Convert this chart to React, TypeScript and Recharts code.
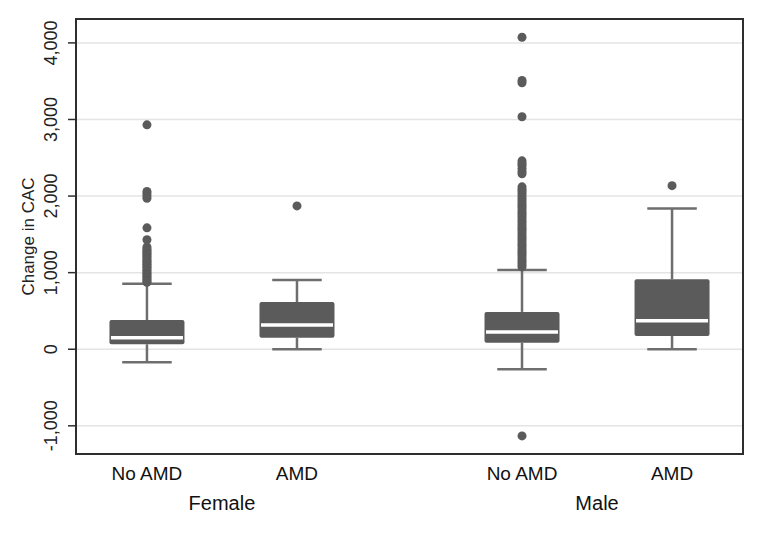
import React from 'react';
import {
  ComposedChart,
  XAxis,
  YAxis,
  CartesianGrid,
  Scatter,
  ReferenceArea,
  ReferenceLine,
} from 'recharts';

// ---- data ----
const categories = ['No AMD', 'AMD', 'No AMD', 'AMD'];
const groups = ['Female', 'Male'];
const categoryPositions = [1, 2, 3.5, 4.5];
const groupPositions = [1.5, 4];

const lowerWhisker = [-170, 0, -261, 0];
const q1 = [65, 151, 86, 174];
const median = [151, 315, 224, 371];
const q3 = [382, 617, 487, 914];
const upperWhisker = [856, 905, 1035, 1836];

const femaleNoAmdOutliers = [
  2930, 2060, 2030, 2000, 1970, 1585, 1430, 1335, 1310, 1290, 1270, 1250, 1230,
  1210, 1190, 1170, 1150, 1130, 1110, 1090, 1070, 1050, 1030, 1010, 990, 970,
  950, 930, 910, 890, 875,
];
const femaleAmdOutliers = [1871];
const maleNoAmdOutliers = [
  4073, 3510, 3480, 3035, 2460, 2430, 2400, 2360, 2320, 2290, 2120, 2090, 2060,
  2030, 2000, 1970, 1940, 1910, 1880, 1850, 1820, 1790, 1760, 1730, 1700, 1670,
  1640, 1610, 1580, 1550, 1520, 1490, 1460, 1430, 1400, 1370, 1340, 1310, 1280,
  1250, 1220, 1190, 1160, 1130, 1100, 1075, -1132,
];
const maleAmdOutliers = [2136];

const yTicks = [-1000, 0, 1000, 2000, 3000, 4000];
const yTitle = 'Change in CAC';

// ---- styles ----
const X_DOMAIN: [number, number] = [0.527, 4.973];
const Y_DOMAIN: [number, number] = [-1368, 4312];
const BOX_HALF = 0.25;
const CAP_HALF = 0.165;
const BOX_FILL = '#5b5b5b';
const WHISKER = '#6e6e6e';
const FRAME = '#2e2e2e';
const FONT = '"Liberation Sans", Arial, sans-serif';

const outlierSets = [femaleNoAmdOutliers, femaleAmdOutliers, maleNoAmdOutliers, maleAmdOutliers];
const outlierPoints = outlierSets.flatMap((set, i) =>
  set.map((v) => ({ x: categoryPositions[i], y: v }))
);
// anchor points so the group axis is attached to a (hidden) series
const groupAnchors = groupPositions.map((g) => ({ x: g, y: 0 }));

const fmt = (v: number) => v.toLocaleString('en-US');

const YTick = (props: any) => {
  const { x, y, payload } = props;
  return (
    <text
      x={x}
      y={y}
      transform={`rotate(-90 ${x} ${y})`}
      textAnchor="middle"
      fontSize={18}
      fontFamily={FONT}
      fill="#222"
    >
      {fmt(payload.value)}
    </text>
  );
};

const CatTick = (props: any) => {
  const { x, y, payload } = props;
  const idx = categoryPositions.indexOf(payload.value);
  return (
    <text x={x} y={y + 26} textAnchor="middle" fontSize={19} fontFamily={FONT} fill="#111">
      {categories[idx]}
    </text>
  );
};

const GroupTick = (props: any) => {
  const { x, y, payload } = props;
  const idx = groupPositions.indexOf(payload.value);
  return (
    <text x={x} y={y + 22} textAnchor="middle" fontSize={20} fontFamily={FONT} fill="#111">
      {groups[idx]}
    </text>
  );
};

const YTitle = (props: any) => {
  const vb = props.viewBox || {};
  const x = (vb.x || 0) + 34;
  const y = (vb.y || 0) + (vb.height || 0) / 2;
  return (
    <text
      x={x}
      y={y}
      transform={`rotate(-90 ${x} ${y})`}
      textAnchor="middle"
      fontSize={17}
      fontFamily={FONT}
      fill="#222"
    >
      {yTitle}
    </text>
  );
};

const Dot = (props: any) => {
  const { cx, cy } = props;
  if (cx == null || cy == null) return null;
  return <circle cx={cx} cy={cy} r={4.5} fill={BOX_FILL} />;
};

const NoShape = () => <g />;

export default function App() {
  return (
    <div>
      <style>{'body{margin:0;background:#fff}'}</style>
      <ComposedChart
        width={763}
        height={535}
        margin={{ top: 19, right: 20, left: 0, bottom: 0 }}
      >
        <CartesianGrid vertical={false} stroke="#e4e4e4" strokeWidth={1.5} />
        <XAxis
          xAxisId={0}
          dataKey="x"
          type="number"
          domain={X_DOMAIN}
          ticks={categoryPositions}
          allowDataOverflow
          height={34}
          tickLine={false}
          tickSize={0}
          tickMargin={0}
          axisLine={{ stroke: FRAME, strokeWidth: 2 }}
          tick={<CatTick />}
          interval={0}
        />
        <XAxis
          xAxisId="group"
          dataKey="x"
          type="number"
          domain={X_DOMAIN}
          ticks={groupPositions}
          allowDataOverflow
          height={47}
          tickLine={false}
          tickSize={0}
          tickMargin={0}
          axisLine={false}
          tick={<GroupTick />}
          interval={0}
        />
        <YAxis
          dataKey="y"
          type="number"
          domain={Y_DOMAIN}
          ticks={yTicks}
          allowDataOverflow
          width={76}
          tickSize={8}
          tickMargin={11}
          tickLine={{ stroke: FRAME, strokeWidth: 1.5 }}
          axisLine={{ stroke: FRAME, strokeWidth: 2 }}
          tick={<YTick />}
          interval={0}
          label={<YTitle />}
        />
        <ReferenceArea
          x1={X_DOMAIN[0]}
          x2={X_DOMAIN[1]}
          y1={Y_DOMAIN[0]}
          y2={Y_DOMAIN[1]}
          fill="none"
          stroke={FRAME}
          strokeWidth={2}
          ifOverflow="visible"
        />
        {categoryPositions.map((p, i) => (
          <ReferenceLine
            key={`wl${i}`}
            segment={[{ x: p, y: lowerWhisker[i] }, { x: p, y: q1[i] }]}
            stroke={WHISKER}
            strokeWidth={2.5}
          />
        ))}
        {categoryPositions.map((p, i) => (
          <ReferenceLine
            key={`wh${i}`}
            segment={[{ x: p, y: q3[i] }, { x: p, y: upperWhisker[i] }]}
            stroke={WHISKER}
            strokeWidth={2.5}
          />
        ))}
        {categoryPositions.map((p, i) => (
          <ReferenceLine
            key={`cl${i}`}
            segment={[{ x: p - CAP_HALF, y: lowerWhisker[i] }, { x: p + CAP_HALF, y: lowerWhisker[i] }]}
            stroke={WHISKER}
            strokeWidth={2.5}
          />
        ))}
        {categoryPositions.map((p, i) => (
          <ReferenceLine
            key={`ch${i}`}
            segment={[{ x: p - CAP_HALF, y: upperWhisker[i] }, { x: p + CAP_HALF, y: upperWhisker[i] }]}
            stroke={WHISKER}
            strokeWidth={2.5}
          />
        ))}
        {categoryPositions.map((p, i) => (
          <ReferenceArea
            key={`box${i}`}
            x1={p - BOX_HALF}
            x2={p + BOX_HALF}
            y1={q1[i]}
            y2={q3[i]}
            fill={BOX_FILL}
            fillOpacity={1}
            stroke="none"
            radius={2}
          />
        ))}
        {categoryPositions.map((p, i) => (
          <ReferenceLine
            key={`med${i}`}
            segment={[{ x: p - BOX_HALF + 0.01, y: median[i] }, { x: p + BOX_HALF - 0.01, y: median[i] }]}
            stroke="#ffffff"
            strokeWidth={3.5}
          />
        ))}
        <Scatter
          data={outlierPoints}
          dataKey="y"
          shape={<Dot />}
          isAnimationActive={false}
          fill={BOX_FILL}
        />
        <Scatter
          xAxisId="group"
          data={groupAnchors}
          dataKey="y"
          shape={<NoShape />}
          isAnimationActive={false}
          legendType="none"
        />
      </ComposedChart>
    </div>
  );
}
